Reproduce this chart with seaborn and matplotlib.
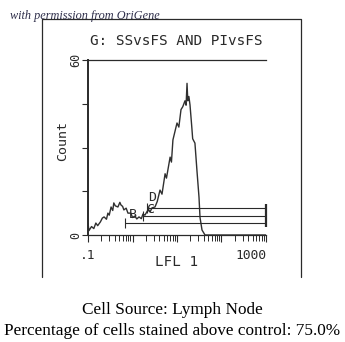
import numpy as np
import pandas as pd
import matplotlib
matplotlib.use("Agg")
import matplotlib.pyplot as plt
from matplotlib.lines import Line2D
from matplotlib.ticker import LogLocator, NullFormatter, FixedLocator
import seaborn as sns

# ---- data ----
lfl = [0.10, 0.105, 0.12, 0.135, 0.15, 0.165, 0.19, 0.21, 0.23, 0.26, 0.28, 0.30,
       0.33, 0.36, 0.38, 0.41, 0.47, 0.52, 0.55, 0.60, 0.64, 0.72, 0.79, 0.92,
       1.0, 1.13, 1.25, 1.40, 1.58, 1.72, 1.9, 2.23, 2.5, 2.74, 3.2, 3.6, 4.15,
       4.6, 5.4, 5.8, 7.0, 7.5, 8.1, 10.0, 11.0, 12.3, 13.5, 15.1, 16.0, 16.8,
       17.5, 18.5, 19.6, 21.5, 22.5, 25.3, 28.1, 31.2, 32.9, 36.5, 42.6, 1000]
count = [4.0, 1.5, 2.9, 2.2, 4.1, 3.2, 4.5, 5.8, 6.2, 5.4, 7.5, 6.8,
         9.6, 8.4, 11.0, 10.0, 9.6, 11.2, 10.3, 9.8, 8.6, 9.2, 7.5, 7.5,
         6.0, 6.5, 5.5, 6.2, 5.6, 7.2, 6.8, 8.6, 8.0, 9.3, 9.6, 11.5, 15.4,
         14.0, 21.0, 19.5, 26.7, 25.0, 32.6, 38.4, 37.0, 43.0, 44.0, 46.0, 44.5, 52.0,
         46.0, 47.5, 44.6, 37.0, 33.0, 31.5, 22.0, 13.0, 6.0, 1.7, 0.0, 0.0]

gate_names = ["B", "C", "D"]
gate_start = [0.68, 1.72, 2.1]
gate_end = [1000, 1000, 1000]
gate_level = [4.1, 6.5, 9.3]
gate_label_x = [1.03, 2.55, 2.74]
gate_label_y = [7.2, 8.6, 12.7]

x_ticks = [0.1, 1, 10, 100, 1000]
x_tick_labels = [".1", "", "", "", "1000"]
y_ticks = [0, 15, 30, 45, 60]
y_tick_labels = ["0", "", "", "", "60"]

title = "G: SSvsFS AND PIvsFS"
x_label = "LFL 1"
y_label = "Count"
watermark = "with permission from OriGene"
caption1 = "Cell Source: Lymph Node"
caption2 = "Percentage of cells stained above control: 75.0%"

# ---- style ----
sns.set_theme(style="white")
plt.rcParams["font.family"] = ["DejaVu Sans Mono", "DejaVu Sans"]
ink = "#2a2a2a"

W, H = 345, 342
fig = plt.figure(figsize=(W / 100, H / 100), dpi=100)
fig.patch.set_facecolor("white")

ax_l, ax_r, ax_t, ax_b = 88, 266, 60, 235
ax = fig.add_axes([ax_l / W, 1 - ax_b / H, (ax_r - ax_l) / W, (ax_b - ax_t) / H])
ax.set_facecolor("white")

df = pd.DataFrame({"LFL": lfl, "Count": count})
sns.lineplot(data=df, x="LFL", y="Count", ax=ax, color="#303030", lw=1.0,
             estimator=None, sort=False)
ax.set_xscale("log")
ax.set_xlim(0.1, 1000)
ax.set_ylim(0, 60)

# gates
for name, s, e, lv, lx, ly in zip(gate_names, gate_start, gate_end, gate_level,
                                  gate_label_x, gate_label_y):
    ax.hlines(lv, s, e, color=ink, lw=0.8, clip_on=False)
    ax.vlines(s, lv - 1.6, lv + 1.6, color=ink, lw=0.8, clip_on=False)
    ax.text(lx, ly, name, ha="center", va="center", fontsize=9.5, color=ink)
ax.vlines(gate_end[0], min(gate_level) - 1.5, max(gate_level) + 1.5,
          color=ink, lw=1.6, clip_on=False)

# spines
for side in ["left", "bottom", "top"]:
    ax.spines[side].set_visible(True)
    ax.spines[side].set_color(ink)
ax.spines["left"].set_linewidth(1.4)
ax.spines["bottom"].set_linewidth(0.9)
ax.spines["top"].set_linewidth(0.9)
ax.spines["right"].set_visible(False)

ax.xaxis.set_major_locator(FixedLocator(x_ticks))
ax.xaxis.set_minor_locator(LogLocator(base=10, subs=range(2, 10)))
ax.xaxis.set_minor_formatter(NullFormatter())
ax.set_xticklabels(x_tick_labels)
ax.set_yticks(y_ticks)
ax.set_yticklabels(y_tick_labels, rotation=90, va="center")
ax.tick_params(axis="x", which="major", direction="out", length=5, width=0.8,
               color=ink, labelsize=9.3, pad=5, labelcolor=ink, bottom=True)
ax.tick_params(axis="x", which="minor", direction="out", length=4, width=0.7,
               color=ink, bottom=True)
ax.tick_params(axis="y", which="major", direction="out", length=4, width=0.8,
               color=ink, labelsize=8.5, pad=0.5, labelcolor=ink, left=True)
labs = ax.get_xticklabels()
labs[-1].set_ha("right")
labs[-1].set_x(1000)

ax.set_xlabel(x_label, fontsize=10.3, color=ink)
ax.xaxis.set_label_coords(0.5, -0.155)
ax.xaxis.label.set_va("center")
ax.set_ylabel(y_label, fontsize=9.5, color=ink)
ax.yaxis.set_label_coords(-0.14, 0.537)
ax.yaxis.label.set_va("center")

# outer frame
bx_l, bx_r, bx_t, bx_b = 42, 301, 19, 277
fig.add_artist(Line2D([bx_l / W, bx_l / W, bx_r / W, bx_r / W],
                      [1 - bx_b / H, 1 - bx_t / H, 1 - bx_t / H, 1 - bx_b / H],
                      transform=fig.transFigure, color=ink, lw=0.9))

fig.text(176.5 / W, 1 - 41 / H, title, ha="center", va="center", fontsize=10.4,
         color=ink)
fig.text(10 / W, 1 - 16 / H, watermark, ha="left", va="center", fontsize=8.8,
         fontstyle="italic", family=["Liberation Serif"], color="#2e2e4a")
fig.text(0.5, 1 - 310 / H, caption1, ha="center", va="center", fontsize=12.4,
         family=["Liberation Serif"], color="black")
fig.text(0.5, 1 - 331 / H, caption2, ha="center", va="center", fontsize=12.4,
         family=["Liberation Serif"], color="black")

fig.savefig("out.png", dpi=100)
